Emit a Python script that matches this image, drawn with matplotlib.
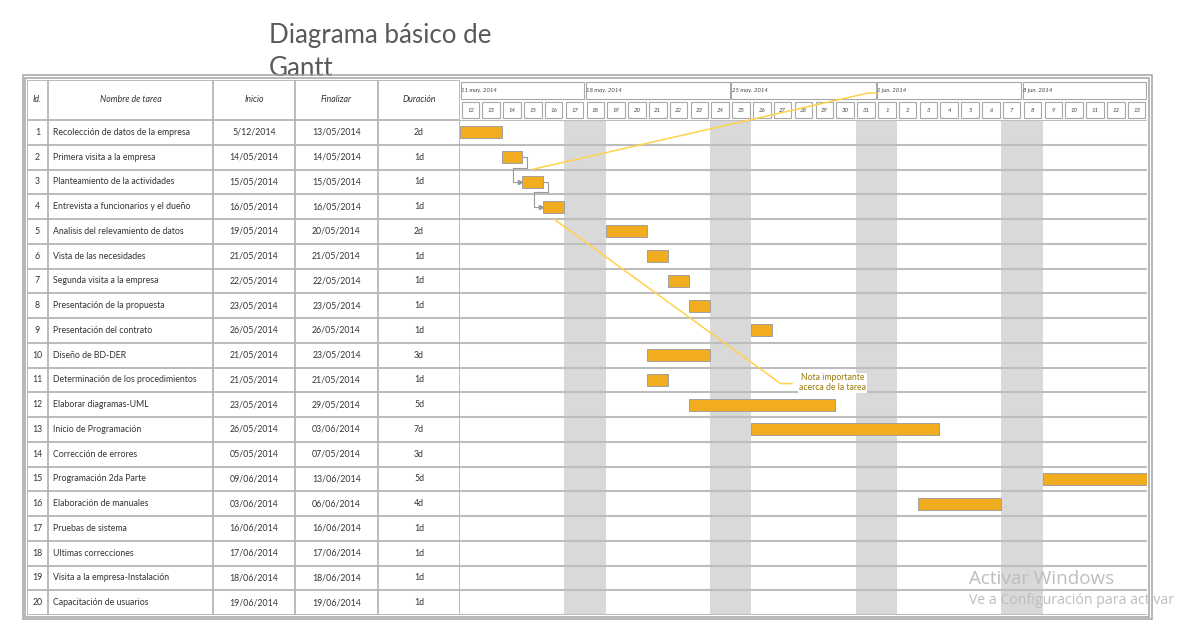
import datetime as dt
import matplotlib.pyplot as plt
from matplotlib.patches import Rectangle

# ---- datos de la tabla ----
ids = list(range(1, 21))
tareas = [
    "Recolección de datos de la empresa", "Primera visita a la empresa",
    "Planteamiento de la actividades", "Entrevista a funcionarios y el dueño",
    "Analisis del relevamiento de datos", "Vista de las necesidades",
    "Segunda visita a la empresa", "Presentación de la propuesta",
    "Presentación del contrato", "Diseño de BD-DER",
    "Determinación de los procedimientos", "Elaborar diagramas-UML",
    "Inicio de Programación", "Corrección de errores",
    "Programación 2da Parte", "Elaboración de manuales",
    "Pruebas de sistema", "Ultimas correcciones",
    "Visita a la empresa-Instalación", "Capacitación de usuarios",
]
inicio = [
    "5/12/2014", "14/05/2014", "15/05/2014", "16/05/2014", "19/05/2014",
    "21/05/2014", "22/05/2014", "23/05/2014", "26/05/2014", "21/05/2014",
    "21/05/2014", "23/05/2014", "26/05/2014", "05/05/2014", "09/06/2014",
    "03/06/2014", "16/06/2014", "17/06/2014", "18/06/2014", "19/06/2014",
]
finalizar = [
    "13/05/2014", "14/05/2014", "15/05/2014", "16/05/2014", "20/05/2014",
    "21/05/2014", "22/05/2014", "23/05/2014", "26/05/2014", "23/05/2014",
    "21/05/2014", "29/05/2014", "03/06/2014", "07/05/2014", "13/06/2014",
    "06/06/2014", "16/06/2014", "17/06/2014", "18/06/2014", "19/06/2014",
]
duracion = ["2d", "1d", "1d", "1d", "2d", "1d", "1d", "1d", "1d", "3d",
            "1d", "5d", "7d", "3d", "5d", "4d", "1d", "1d", "1d", "1d"]
encabezado = ["Id.", "Nombre de tarea", "Inicio", "Finalizar", "Duración"]

# la primera celda viene en formato mes/dia
inicio_barra = list(inicio)
inicio_barra[0] = "12/05/2014"

dia0 = dt.date(2014, 5, 12)
n_dias = 33
dependencias = [(2, 3), (3, 4)]
meses = {5: "may.", 6: "jun."}
nota = "Nota importante\nacerca de la tarea"


def fecha(s):
    return dt.datetime.strptime(s, "%d/%m/%Y").date()


W, H = 1179, 641


def caja(x0, y0, x1, y1):
    return [x0 / W, 1 - y1 / H, (x1 - x0) / W, (y1 - y0) / H]


fig = plt.figure(figsize=(W / 100, H / 100), dpi=100)
fig.patch.set_facecolor("white")

GRIS = "#b5b5b5"
ORO = "#F2AC1F"
AMARILLO = "#FFD24A"
FUENTE = "Lato"

n = len(ids)
fila = (615 - 120) / n
hdr = (120 - 80) / fila

# ---- tabla ----
ax_t = fig.add_axes(caja(27, 80, 460, 615))
ax_t.set_xlim(27, 460)
ax_t.set_ylim(n, -hdr)
ax_t.axis("off")
col_x = [27, 48, 213, 295, 378, 460]
ax_t.vlines(col_x, -hdr, n, color=GRIS, lw=1.3)
ax_t.hlines([-hdr] + list(range(n + 1)), 27, 460, color=GRIS, lw=1.3)
for j, t in enumerate(encabezado):
    xc = (col_x[j] + col_x[j + 1]) / 2
    ax_t.text(xc, -hdr / 2, t, ha="center", va="center", fontsize=6.3,
              style="italic", family=FUENTE, color="#333333")
for i in range(n):
    y = i + 0.5
    kw = dict(va="center", fontsize=6.3, family=FUENTE, color="#333333")
    ax_t.text((col_x[0] + col_x[1]) / 2, y, str(ids[i]), ha="center", **kw)
    ax_t.text(col_x[1] + 5, y, tareas[i], ha="left", **kw)
    ax_t.text((col_x[2] + col_x[3]) / 2, y, inicio[i], ha="center", **kw)
    ax_t.text((col_x[3] + col_x[4]) / 2, y, finalizar[i], ha="center", **kw)
    ax_t.text((col_x[4] + col_x[5]) / 2, y, duracion[i], ha="center", **kw)

# ---- encabezado de fechas ----
ax_h = fig.add_axes(caja(460, 80, 1147, 120))
ax_h.set_xlim(0, n_dias)
ax_h.set_ylim(2, 0)
ax_h.axis("off")
dias = [dia0 + dt.timedelta(days=k) for k in range(n_dias)]
for k, d in enumerate(dias):
    ax_h.add_patch(Rectangle((k + 0.08, 1.12), 0.84, 0.76, fc="white",
                             ec="#a8a8a8", lw=0.8))
    ax_h.text(k + 0.5, 1.52, str(d.day), ha="center", va="center",
              fontsize=4.3, style="italic", family=FUENTE, color="#444444")
domingos = [d for d in [dia0 - dt.timedelta(days=1)] + dias if d.weekday() == 6]
for s, d in enumerate(domingos):
    x0 = max(0, (d - dia0).days)
    x1 = min(n_dias, (d - dia0).days + 7)
    ax_h.add_patch(Rectangle((x0 + 0.04, 0.1), x1 - x0 - 0.08, 0.85,
                             fc="white", ec="#a8a8a8", lw=0.8))
    ax_h.text(x0 + 0.05, 0.5, f"{d.day} {meses[d.month]} {d.year}",
              ha="left", va="center", fontsize=4.3, style="italic",
              family=FUENTE, color="#444444")

# ---- cuerpo del Gantt ----
ax_g = fig.add_axes(caja(460, 120, 1147, 615))
ax_g.set_xlim(0, n_dias)
ax_g.set_ylim(n, 0)
ax_g.axis("off")
for k, d in enumerate(dias):
    if d.weekday() >= 5:
        ax_g.axvspan(k, k + 1, color="#d9d9d9", lw=0, zorder=0)
ax_g.hlines(range(n + 1), 0, n_dias, color="#bdbdbd", lw=1.5, zorder=1)

izq = [(fecha(a) - dia0).days for a in inicio_barra]
ancho = [(fecha(b) - fecha(a)).days + 1 for a, b in zip(inicio_barra, finalizar)]
filas = [i + 0.5 for i in range(n)]
ax_g.barh(filas, ancho, left=izq, height=0.48, color=ORO, edgecolor="#a0a0a0",
          lw=0.7, zorder=3)

for a, b in dependencias:
    xa, ya = izq[a - 1] + ancho[a - 1], filas[a - 1]
    xb, yb = izq[b - 1], filas[b - 1]
    px = [xa, xa + 0.22, xa + 0.22, xb - 0.45, xb - 0.45, xb - 0.12]
    py = [ya, ya, ya + 0.42, ya + 0.42, yb, yb]
    ax_g.plot(px, py, color="#9a9a9a", lw=0.8, zorder=2)
    ax_g.plot(xb - 0.1, yb, marker=">", ms=3, color="#9a9a9a", zorder=2)

# notas en amarillo
x_n1 = izq[2] + ancho[2] / 2 - 0.05
x_sem = (domingos[3] - dia0).days
ax_g.plot([x_n1, x_sem - 0.4, x_sem], [2.0, -1.09, -1.09], color=AMARILLO,
          lw=1.1, clip_on=False, zorder=4)
x_n2 = izq[3] + ancho[3] / 2
ax_g.plot([x_n2, 15.4, 15.95], [4.0, 10.65, 10.65], color=AMARILLO, lw=1.1,
          clip_on=False, zorder=4)
ax_g.text(17.9, 10.62, nota, ha="center", va="center", fontsize=6.2,
          family=FUENTE, color="#9A7A08", linespacing=1.1, zorder=5,
          bbox=dict(fc="white", ec="none", pad=0.6))

# ---- marco exterior ----
for x0, y0, x1, y1 in [(23, 75, 1152, 619), (25, 78, 1149, 617)]:
    fig.add_artist(Rectangle((x0 / W, 1 - y1 / H), (x1 - x0) / W,
                             (y1 - y0) / H, transform=fig.transFigure,
                             fill=False, ec="#a3a3a3", lw=1.1))

fig.text(269 / W, 1 - 23 / H, "Diagrama básico de\nGantt", ha="left",
         va="top", fontsize=18.6, family=FUENTE, color="#595959",
         linespacing=1.4, zorder=0)

fig.text(969 / W, 1 - 579 / H, "Activar Windows", ha="left", va="center",
         fontsize=13.6, family="Open Sans", color="#bdbdbd")
fig.text(969 / W, 1 - 601 / H, "Ve a Configuración para activar",
         ha="left", va="center", fontsize=10.2, family="Open Sans",
         color="#bdbdbd")

fig.savefig("out.png", dpi=100, facecolor="white")
